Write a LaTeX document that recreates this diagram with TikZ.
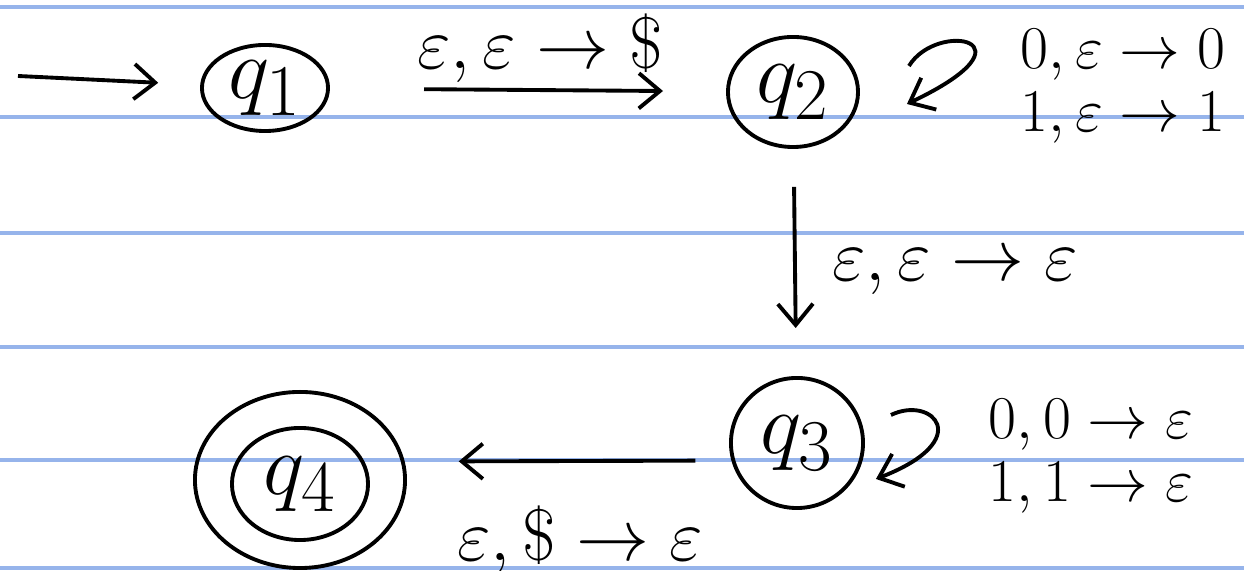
\documentclass[tikz,border=0pt]{standalone}
\usetikzlibrary{shapes.geometric,arrows.meta}
\definecolor{ruled}{RGB}{150,180,235}
\tikzset{
  statebox/.style={ellipse, draw, line width=1.1pt, inner sep=0pt, font=\Huge},
  arr/.style={line width=1.1pt, -{Straight Barb[length=6pt,width=10pt]}},
  lbl/.style={font=\huge, inner sep=0pt, align=left},
  looplbl/.style={lbl, font=\LARGE, anchor=west},
}
\begin{document}
\begin{tikzpicture}[x=0.01cm, y=-0.01cm]
    \useasboundingbox (0,0) rectangle (1244,571);
    % ruled paper
    \foreach \yy in {7,117,233,347,460,568}
        \draw[ruled, line width=0.9pt] (0,\yy) -- (1244,\yy);
    % states
    \node[statebox, minimum width=1.26cm, minimum height=0.86cm] (q1) at (265,88) {$q_1$};
    \node[statebox, minimum width=1.30cm, minimum height=1.10cm] (q2) at (793,92) {$q_2$};
    \node[statebox, minimum width=1.32cm, minimum height=1.30cm] (q3) at (797,443) {$q_3$};
    \node[statebox, minimum width=1.36cm, minimum height=1.12cm] (q4) at (300,484) {$q_4$};
    \node[ellipse, draw, line width=1.1pt, minimum width=2.10cm, minimum height=1.76cm] (q4o) at (300,480) {};
    \coordinate (start) at (18,76);
    % transitions
    \draw[arr, shorten >=0.42cm] (start) -- (q1);
    \draw[arr, shorten <=0.94cm, shorten >=0.63cm] (q1) -- (q2);
    \draw[arr, shorten <=0.38cm, shorten >=0.48cm] (q2) -- (q3);
    \draw[arr, shorten <=0.36cm, shorten >=0.54cm] (q3.195) -- (q4o.10);
    \draw[arr] ([shift={(49,-26)}]q2.east) .. controls +(28,-46) and +(135,-64) .. ([shift={(47,12)}]q2.east);
    \draw[arr] ([shift={(26,-28)}]q3.east) .. controls +(41,-20) and +(101,-39) .. ([shift={(11,36)}]q3.east);
    % labels
    \node[lbl] (l12) at (540,48) {$\varepsilon, \varepsilon \to \$$};
    \node[looplbl] (l22) at (1020,86) {$0, \varepsilon \to 0$\\[-4pt] $1, \varepsilon \to 1$};
    \node[lbl] (l23) at (955,272) {$\varepsilon, \varepsilon \to \varepsilon$};
    \node[looplbl] (l33) at (988,456) {$0, 0 \to \varepsilon$\\[-4pt] $1, 1 \to \varepsilon$};
    \node[lbl] (l34) at (580,540) {$\varepsilon, \$ \to \varepsilon$};
\end{tikzpicture}
\end{document}
